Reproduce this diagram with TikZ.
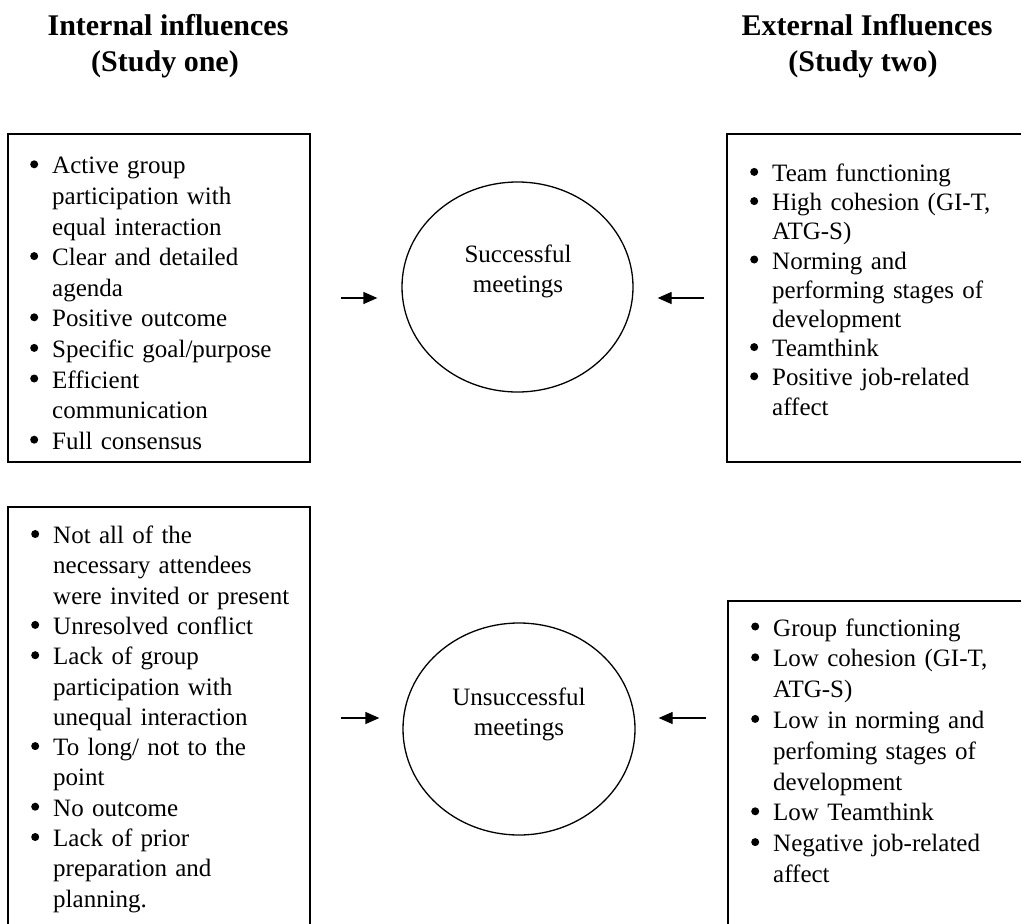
\documentclass[tikz,border=0pt]{standalone}
\usepackage{fontspec}
\setmainfont{Liberation Serif}
\usetikzlibrary{shapes.geometric,arrows.meta}
\newlength\bhang
\setlength\bhang{21pt}
\newcommand\bdot{\tikz[baseline={(0pt,-9.5pt)}]\fill (0pt,0pt) circle[radius=4pt];}
\newcommand\bitem{\par\noindent\hangindent=\bhang\hangafter=1\hbox to \bhang{\hskip-1pt\bdot\hss}}
\newcommand\nl{\hfil\break}
\newcommand\fstrut{\rule{0pt}{20pt}}
\begin{document}
\begin{tikzpicture}[x=1pt,y=-1pt,
  frame/.style={draw,line width=1.5pt,rectangle,inner sep=0pt},
  meet/.style={draw,line width=1.3pt,ellipse,inner sep=0pt},
  listtxt/.style={anchor=north west,inner sep=0pt,text width=300pt,font=\fontsize{25}{#1}\selectfont},
  head/.style={anchor=base,inner sep=0pt,font=\fontsize{30}{36}\selectfont\bfseries},
  mtxt/.style={anchor=base,inner sep=0pt,font=\fontsize{25}{30}\selectfont},
  arr/.style={line width=1.3pt,-{Triangle[length=14pt,width=12pt]}}]
\useasboundingbox (0,0) rectangle (1021,924);
\clip (0,0) rectangle (1021,924);
% headings
\node[head] (h1a) at (168,35) {Internal influences};
\node[head] (h1b) at (165,71) {(Study one)};
\node[head] (h2a) at (867,35) {External Influences};
\node[head] (h2b) at (863,71) {(Study two)};
% boxes
\node[frame,minimum width=302pt,minimum height=328pt] (tl) at (159,298) {};
\node[frame,minimum width=303pt,minimum height=328pt] (tr) at (878.5,298) {};
\node[frame,minimum width=302pt,minimum height=422pt] (bl) at (159,718) {};
\node[frame,minimum width=302pt,minimum height=339pt] (br) at (879,770.5) {};
% lists
\node[listtxt=30.6pt] (tlt) at (31,143) {\setlength\parskip{0pt}%
\bitem\fstrut Active group\nl participation with\nl equal interaction
\bitem Clear and detailed\nl agenda
\bitem Positive outcome
\bitem Specific goal/purpose
\bitem Efficient\nl communication
\bitem Full consensus\par};
\node[listtxt=29.2pt] (trt) at (751,152) {\setlength\parskip{0pt}%
\bitem\fstrut Team functioning
\bitem High cohesion (GI-T,\nl ATG-S)
\bitem Norming and\nl performing stages of\nl development
\bitem Teamthink
\bitem Positive job-related\nl affect\par};
\node[listtxt=30.3pt] (blt) at (32,513) {\setlength\parskip{0pt}%
\bitem\fstrut Not all of the\nl necessary attendees\nl were invited or present
\bitem Unresolved conflict
\bitem Lack of group\nl participation with\nl unequal interaction
\bitem To long/ not to the\nl point
\bitem No outcome
\bitem Lack of prior\nl preparation and\nl planning.\par};
\node[listtxt=30.8pt] (brt) at (752,605) {\setlength\parskip{0pt}%
\bitem\fstrut Group functioning
\bitem Low cohesion (GI-T,\nl ATG-S)
\bitem Low in norming and\nl perfoming stages of\nl development
\bitem Low Teamthink
\bitem Negative job-related\nl affect\par};
% meetings
\node[meet,minimum width=231pt,minimum height=210pt] (sc) at (517.5,287) {};
\node[mtxt] (sc1) at (518,262) {Successful};
\node[mtxt] (sc2) at (518,292) {meetings};
\node[meet,minimum width=232pt,minimum height=212pt] (uc) at (519,729) {};
\node[mtxt] (uc1) at (519,705) {Unsuccessful};
\node[mtxt] (uc2) at (519,735) {meetings};
% arrows
\draw[arr,shorten <=30pt,shorten >=24pt] (tl.east) -- (tl.east -| sc.west);
\draw[arr,shorten <=22pt,shorten >=24pt] (tr.west) -- (tr.west -| sc.east);
\draw[arr,shorten <=30pt,shorten >=23pt] (bl.east) -- (bl.east -| uc.west);
\draw[arr,shorten <=21pt,shorten >=23pt] (br.west |- bl.east) -- (bl.east -| uc.east);
\end{tikzpicture}
\end{document}
